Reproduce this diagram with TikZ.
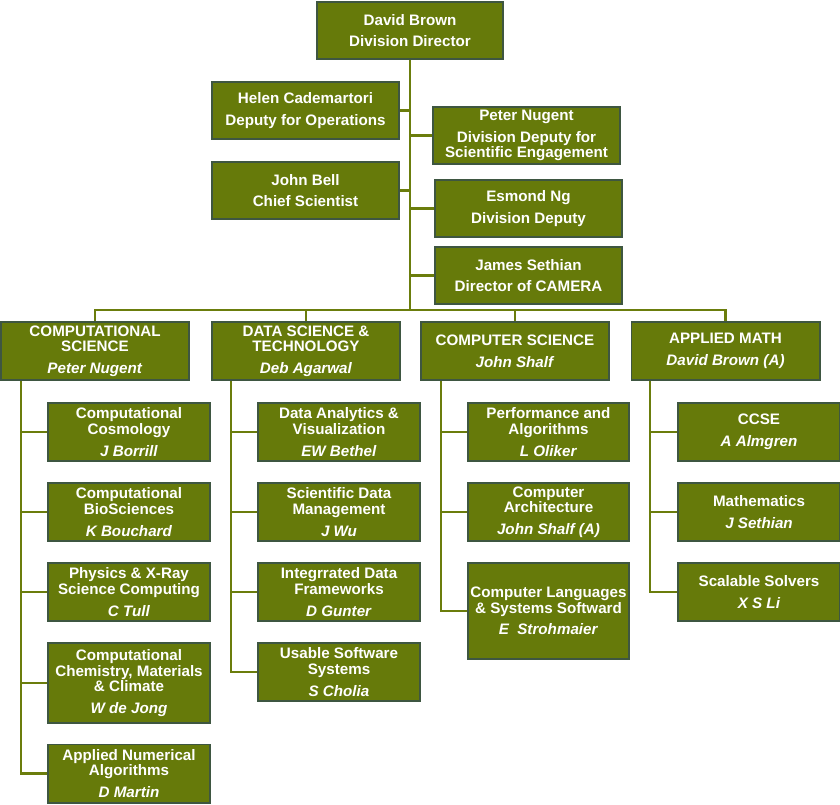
\documentclass[tikz,border=0pt]{standalone}
\usepackage{fontspec}
\setmainfont{Liberation Sans}
\usetikzlibrary{backgrounds}
\definecolor{boxolive}{HTML}{667A0A}
\definecolor{boxedge}{HTML}{3E5641}
\definecolor{lineolive}{HTML}{6B7D0C}

\begin{document}
\begin{tikzpicture}[x=0.025cm, y=-0.025cm,
  every node/.style={align=center},
  unit/.style={rectangle, draw=boxedge, line width=1.4pt, fill=boxolive, text=white,
    inner sep=0pt, font=\fontsize{10.8}{11.1}\selectfont\bfseries},
  lead/.style={unit, minimum width=4.675cm, minimum height=1.425cm},
  head/.style={unit, minimum width=4.7cm, minimum height=1.45cm},
  group/.style={unit, minimum width=4.05cm, minimum height=1.45cm},
  link/.style={lineolive, line width=2.1pt}]
  \useasboundingbox (0,0) rectangle (840,804);

  % --- Director and deputies ---
  \node[lead, minimum width=4.65cm] (director) at (410,30.5) {David Brown\\[4.3pt]Division Director};
  \node[lead] (ops)    at (305.5,110.5) {Helen Cademartori\\[4.3pt]Deputy for Operations};
  \node[lead] (chief)  at (305.5,190.5) {John Bell\\[4.3pt]Chief Scientist};
  \node[lead] (engage) at (526.5,135.5) {Peter Nugent\\[4.3pt]Division Deputy for\\Scientific Engagement};
  \node[lead] (deputy) at (528.5,208.5) {Esmond Ng\\[4.3pt]Division Deputy};
  \node[lead] (camera) at (528.5,275.5) {James Sethian\\[4.3pt]Director of CAMERA};

  % --- Departments ---
  \node[head] (compsci) at (95,351)    {COMPUTATIONAL\\SCIENCE\\[4.3pt]\textit{Peter Nugent}};
  \node[head] (datasci) at (306,351)   {DATA SCIENCE \&\\TECHNOLOGY\\[4.3pt]\textit{Deb Agarwal}};
  \node[head] (cs)      at (515,351)   {COMPUTER SCIENCE\\[4.3pt]\textit{John Shalf}};
  \node[head] (math)    at (725.5,351) {APPLIED MATH\\[4.3pt]\textit{David Brown (A)}};

  % --- Computational Science groups ---
  \node[group] (cosmo) at (129,432)   {Computational\\Cosmology\\[4.3pt]\textit{J Borrill}};
  \node[group] (bio)   at (129,512)   {Computational\\BioSciences\\[4.3pt]\textit{K Bouchard}};
  \node[group] (xray)  at (129,592)   {Physics \& X-Ray\\Science Computing\\[4.3pt]\textit{C Tull}};
  \node[group, minimum height=2cm] (chem) at (129,683) {Computational\\Chemistry, Materials\\\& Climate\\[4.3pt]\textit{W de Jong}};
  \node[group] (ana)   at (129,773.5) {Applied Numerical\\Algorithms\\[4.3pt]\textit{D Martin}};

  % --- Data Science & Technology groups ---
  \node[group] (dav) at (339,432) {Data Analytics \&\\Visualization\\[4.3pt]\textit{EW Bethel}};
  \node[group] (sdm) at (339,512) {Scientific Data\\Management\\[4.3pt]\textit{J Wu}};
  \node[group] (idf) at (339,592) {Integrrated Data\\Frameworks\\[4.3pt]\textit{D Gunter}};
  \node[group] (uss) at (339,672) {Usable Software\\Systems\\[4.3pt]\textit{S Cholia}};

  % --- Computer Science groups ---
  \node[group, minimum width=4.025cm] (perf) at (548.5,432) {Performance and\\Algorithms\\[4.3pt]\textit{L Oliker}};
  \node[group, minimum width=4.025cm] (arch) at (548.5,512) {Computer\\Architecture\\[4.3pt]\textit{John Shalf (A)}};
  \node[group, minimum width=4.025cm, minimum height=2.4cm] (lang) at (548.5,611) {Computer Languages\\\& Systems Softward\\[4.3pt]\textit{E\ \ Strohmaier}};

  % --- Applied Math groups ---
  \node[group] (ccse)    at (759,432) {CCSE\\[4.3pt]\textit{A Almgren}};
  \node[group] (mathgrp) at (759,512) {Mathematics\\[4.3pt]\textit{J Sethian}};
  \node[group] (solvers) at (759,592) {Scalable Solvers\\[4.3pt]\textit{X S Li}};

  % --- connectors ---
  \coordinate (bus) at (410,310);
  \coordinate (rail1) at (21,380);
  \coordinate (rail2) at (231,380);
  \coordinate (rail3) at (441,380);
  \coordinate (rail4) at (650,380);
  \begin{scope}[on background layer]
    \fill[white] (0,0) rectangle (840,804);
    \draw[link] (director) -- (bus);
    \foreach \d in {ops,chief}
      \draw[link] (\d.east) -- (\d.east -| bus);
    \foreach \d in {engage,deputy,camera}
      \draw[link] (\d.west) -- (\d.west -| bus);
    \foreach \h in {compsci,datasci,cs,math}
      \draw[link] (\h.north) |- (bus);
    \foreach \g in {cosmo,bio,xray,chem,ana}
      \draw[link] (rail1) |- (\g.west);
    \foreach \g in {dav,sdm,idf,uss}
      \draw[link] (rail2) |- (\g.west);
    \foreach \g in {perf,arch,lang}
      \draw[link] (rail3) |- (\g.west);
    \foreach \g in {ccse,mathgrp,solvers}
      \draw[link] (rail4) |- (\g.west);
  \end{scope}
\end{tikzpicture}
\end{document}
